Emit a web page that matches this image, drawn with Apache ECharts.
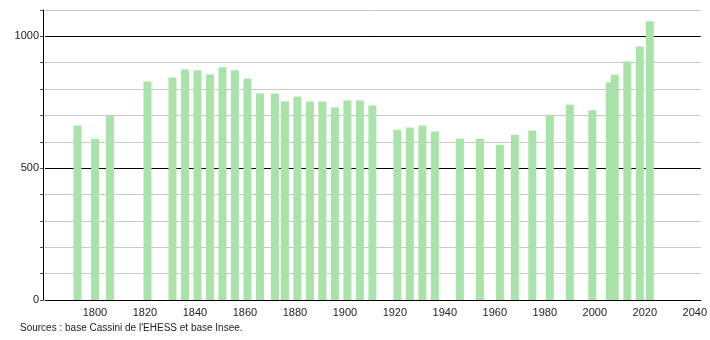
<!DOCTYPE html>
<html>
<head>
<meta charset="utf-8">
<script src="https://cdn.jsdelivr.net/npm/echarts@6/dist/echarts.min.js"></script>
<style>
html,body{margin:0;padding:0;background:#fff;}
#c{width:710px;height:340px;}
</style>
</head>
<body>
<div id="c"></div>
<script>
var years = [1793,1800,1806,1821,1831,1836,1841,1846,1851,1856,1861,1866,1872,1876,1881,1886,1891,1896,1901,1906,1911,1921,1926,1931,1936,1946,1954,1962,1968,1975,1982,1990,1999,2006,2008,2013,2018,2022];
var population = [662,612,698,829,844,874,871,855,883,871,840,783,783,753,772,753,753,730,757,757,738,646,654,662,639,612,612,589,627,643,703,741,720,826,854,905,962,1057];
var xTickLabels = [1800,1820,1840,1860,1880,1900,1920,1940,1960,1980,2000,2020,2040];
var yTickLabels = [0,500,1000];
var sourceText = "Sources : base Cassini de l'EHESS et base Insee.";

var chart = echarts.init(document.getElementById('c'), null, {renderer:'canvas'});
var data = years.map(function(y,i){return [y, population[i]];});
chart.setOption({
  animation:false,
  grid:{left:45,right:9,top:10,bottom:40,containLabel:false},
  xAxis:{
    type:'value', min:1780, max:2042.4, interval:20,
    axisLine:{show:true,onZero:false,lineStyle:{color:'#000',width:1}},
    axisTick:{show:false},
    splitLine:{show:false},
    axisLabel:{
      color:'#222', fontFamily:'Liberation Sans, Arial', fontSize:11, margin:7,
      showMinLabel:true, showMaxLabel:true,
      formatter:function(v){return xTickLabels.indexOf(v)>=0 ? String(v) : '';}
    }
  },
  yAxis:{
    type:'value', min:0, max:1100, interval:100, offset:2,
    axisLine:{show:true,lineStyle:{color:'#000',width:1}},
    axisTick:{show:true,length:3,lineStyle:{color:'#555'}},
    splitLine:{show:true,lineStyle:{color:['#000','#c8c8c8','#c8c8c8','#c8c8c8','#c8c8c8'],width:1}},
    axisLabel:{
      color:'#222', fontFamily:'Liberation Sans, Arial', fontSize:11, margin:4,
      formatter:function(v){return yTickLabels.indexOf(v)>=0 ? String(v) : '';}
    }
  },
  series:[{
    type:'bar',
    data:data,
    barWidth:8,
    itemStyle:{color:'#aae3aa'},
    z:3
  }],
  graphic:[{
    type:'text', left:20, top:323,
    style:{text:sourceText, fill:'#222', font:'10px "Liberation Sans", Arial'}
  }]
});
</script>
</body>
</html>
